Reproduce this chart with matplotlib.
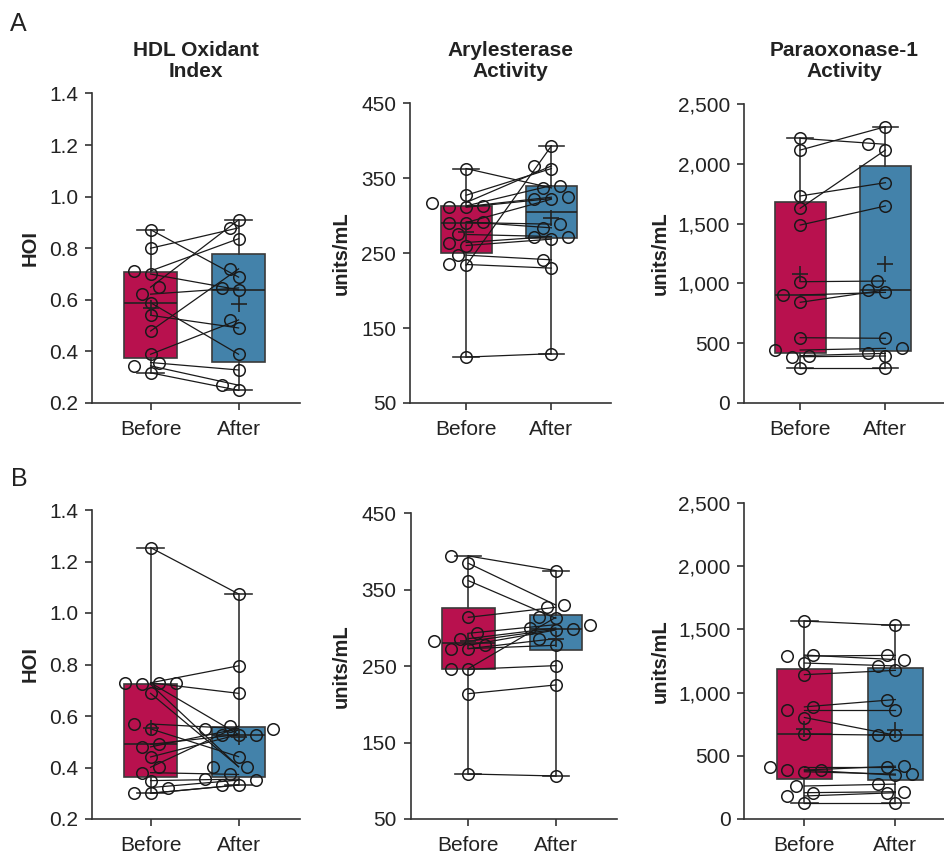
import numpy as np
import matplotlib
matplotlib.use("Agg")
import matplotlib.pyplot as plt
from matplotlib.ticker import FuncFormatter

matplotlib.rcParams.update({
    "font.family": ["Liberation Sans", "DejaVu Sans"],
    "axes.spines.top": False,
    "axes.spines.right": False,
    "axes.edgecolor": "#333333",
    "axes.linewidth": 1.2,
    "xtick.color": "#333333",
    "ytick.color": "#333333",
    "xtick.labelcolor": "#222222",
    "ytick.labelcolor": "#222222",
})

GROUPS = ["Before", "After"]
BEFORE_COLOR = "#B8114E"
AFTER_COLOR = "#4382AA"

# ---- Panel A (paired: index i in "before" goes with index i in "after") ----
hoi_a_before = [0.872, 0.800, 0.712, 0.700, 0.649, 0.622, 0.589, 0.540, 0.479, 0.389, 0.357, 0.344, 0.317]
hoi_a_after = [0.688, 0.879, 0.837, 0.639, 0.910, 0.646, 0.389, 0.491, 0.720, 0.522, 0.328, 0.269, 0.249]

aryl_a_before = [362.9, 327.3, 317.6, 313.1, 312.2, 311.3, 291.8, 290.9, 290.9, 274.9, 264.2, 260.2,
                 247.3, 234.9, 233.6, 111.3]
aryl_a_after = [337.1, 362.9, 366.4, 340.2, 324.7, 322.9, 283.8, 322.0, 288.7, 272.2, 272.2, 268.7,
                241.1, 230.0, 393.1, 115.8]

pon_a_before = [2213, 2115, 1731, 1628, 1488, 1014, 903, 842, 546, 443, 396, 387, 295]
pon_a_after = [2163, 2310, 1842, 2115, 1647, 1020, 925, 945, 541, 457, 415, 393, 295]

# ---- Panel B ----
hoi_b_before = [1.254, 0.729, 0.729, 0.729, 0.723, 0.688, 0.569, 0.550, 0.490, 0.480, 0.441, 0.401,
                0.380, 0.349, 0.322, 0.300, 0.300]
hoi_b_after = [1.074, 0.795, 0.688, 0.528, 0.403, 0.403, 0.551, 0.442, 0.528, 0.551, 0.528, 0.561,
               0.373, 0.355, 0.351, 0.332, 0.332]

aryl_b_before = [394.2, 384.6, 361.9, 313.9, 293.0, 286.0, 282.5, 277.3, 272.9, 272.9, 246.7, 245.9,
                 214.0, 108.9]
aryl_b_after = [375.0, 330.0, 312.6, 327.0, 304.3, 300.0, 298.2, 297.3, 286.0, 277.3, 313.9, 250.7,
                225.4, 106.3]

pon_b_before = [1566, 1297, 1289, 1234, 1142, 887, 861, 803, 671, 413, 387, 387, 374, 261, 208, 182, 124]
pon_b_after = [1532, 1261, 1295, 1211, 1176, 945, 861, 663, 663, 413, 418, 347, 355, 276, 216, 208, 124]

W, H = 945, 856


def box_stats(values):
    v = np.asarray(values, dtype=float)
    q1, med, q3 = np.percentile(v, [25, 50, 75], method="weibull")
    return dict(med=med, q1=q1, q3=q3, whislo=v.min(), whishi=v.max(),
                mean=v.mean(), fliers=[])


def swarm_offsets(ax, values, pos, diam=11.5, step=8.5):
    """Simple discrete beeswarm, done in pixel space."""
    xy = np.column_stack([np.full(len(values), pos), values])
    ys = ax.transData.transform(xy)[:, 1]
    dx = np.zeros(len(values))
    placed = []
    for i in np.argsort(ys):
        for k in [0, -1, 1, -2, 2, -3, 3, -4, 4, -5, 5]:
            ox = k * step
            if all((ox - px) ** 2 + (ys[i] - py) ** 2 >= diam ** 2 for px, py in placed):
                break
        placed.append((ox, ys[i]))
        dx[i] = ox
    px_per_unit = ax.transData.transform((1, 0))[0] - ax.transData.transform((0, 0))[0]
    return dx / px_per_unit


def paired_panel(rect_px, before, after, yticks, fmt):
    x0, x1, ytop, ybot = rect_px
    ax = fig.add_axes([x0 / W, 1 - ybot / H, (x1 - x0) / W, (ybot - ytop) / H])
    ax.set_xlim(-0.66, 1.70)
    ax.set_ylim(yticks[0], yticks[-1])

    bp = ax.bxp([box_stats(before), box_stats(after)], positions=[0, 1],
                widths=0.6, capwidths=0.3, patch_artist=True, showmeans=True,
                manage_ticks=False,
                boxprops=dict(edgecolor="#3a3a3a", linewidth=1.2),
                medianprops=dict(color="#222222", linewidth=1.2),
                whiskerprops=dict(color="#333333", linewidth=1.2),
                capprops=dict(color="#333333", linewidth=1.2),
                meanprops=dict(marker="+", markeredgecolor="#222222",
                               markersize=11, markeredgewidth=1.2))
    for patch, c in zip(bp["boxes"], [BEFORE_COLOR, AFTER_COLOR]):
        patch.set_facecolor(c)
        patch.set_zorder(1)
    for m in bp["means"]:
        m.set_zorder(6)

    b = np.asarray(before, dtype=float)
    a = np.asarray(after, dtype=float)
    ax.plot(np.vstack([np.zeros_like(b), np.ones_like(a)]), np.vstack([b, a]),
            color="#1a1a1a", lw=0.9, zorder=3)

    for pos, vals in [(0, b), (1, a)]:
        off = swarm_offsets(ax, vals, pos)
        ax.plot(pos + off, vals, "o", ms=8.3, mfc="none", mec="#1a1a1a",
                mew=1.1, zorder=5, clip_on=False)

    ax.set_xticks([0, 1])
    ax.set_xticklabels(GROUPS)
    ax.set_yticks(yticks)
    ax.yaxis.set_major_formatter(FuncFormatter(fmt))
    ax.tick_params(axis="both", direction="out", length=5, width=1.2,
                   labelsize=15, pad=5)
    ax.tick_params(axis="x", pad=7)
    return ax


fig = plt.figure(figsize=(W / 100, H / 100), dpi=100)

hoi_ticks = [0.2, 0.4, 0.6, 0.8, 1.0, 1.2, 1.4]
aryl_ticks = [50, 150, 250, 350, 450]
pon_ticks = [0, 500, 1000, 1500, 2000, 2500]
f_hoi = lambda v, p: f"{v:.1f}"
f_int = lambda v, p: f"{v:,.0f}"

panels = [
    ((92.5, 300.2, 93.5, 403), hoi_a_before, hoi_a_after, hoi_ticks, f_hoi),
    ((410, 611, 103.3, 403), aryl_a_before, aryl_a_after, aryl_ticks, f_int),
    ((744, 945, 104, 403), pon_a_before, pon_a_after, pon_ticks, f_int),
    ((92.5, 300.2, 510, 819), hoi_b_before, hoi_b_after, hoi_ticks, f_hoi),
    ((410.6, 617, 513.3, 819), aryl_b_before, aryl_b_after, aryl_ticks, f_int),
    ((744.4, 959, 503, 819), pon_b_before, pon_b_after, pon_ticks, f_int),
]
axes = [paired_panel(*p) for p in panels]

# column titles
for ax, title in zip(axes[:3], ["HDL Oxidant\nIndex", "Arylesterase\nActivity",
                                "Paraoxonase-1\nActivity"]):
    pos = ax.get_position()
    fig.text((pos.x0 + pos.x1) / 2, 1 - 61 / H, title, ha="center", va="center",
             fontsize=15, fontweight="bold", color="#222222", linespacing=1.1)

# y-axis labels
for ax, xpx, lab in zip(axes, [30, 341, 660] * 2, ["HOI", "units/mL", "units/mL"] * 2):
    pos = ax.get_position()
    fig.text(xpx / W, (pos.y0 + pos.y1) / 2, lab, rotation=90, ha="center",
             va="center", fontsize=14.5, fontweight="bold", color="#222222")

fig.text(10 / W, 1 - 31 / H, "A", fontsize=18, color="#222222", va="baseline")
fig.text(11 / W, 1 - 486 / H, "B", fontsize=18, color="#222222", va="baseline")

fig.savefig("out.png", dpi=100)
